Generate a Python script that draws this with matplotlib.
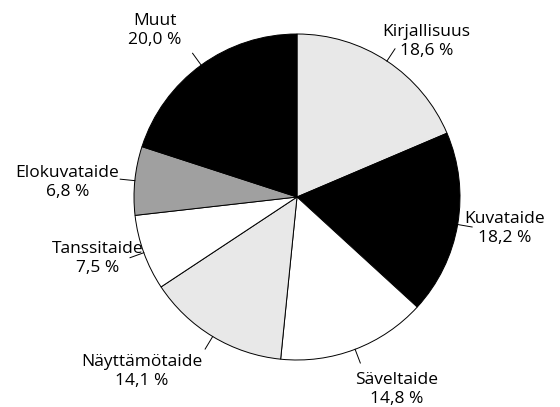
import matplotlib.pyplot as plt
import numpy as np

labels = ['Kirjallisuus', 'Kuvataide', 'Säveltaide', 'Näyttämötaide',
          'Tanssitaide', 'Elokuvataide', 'Muut']
values = [18.6, 18.2, 14.8, 14.1, 7.5, 6.8, 20.0]
colors = ['#e8e8e8', '#000000', '#ffffff', '#e8e8e8', '#ffffff', '#a0a0a0', '#000000']

# where the label text sits: (radius, angle in degrees) from the centre
text_pos = [(1.24, 50.2), (1.29, -8.5), (1.33, -62.7), (1.43, -131.7),
            (1.28, -162.8), (1.41, 176.5), (1.34, 130.5)]

plt.rcParams['font.family'] = ['Open Sans', 'DejaVu Sans']

fig = plt.figure(figsize=(5.6, 4.07), dpi=100)
ax = fig.add_axes([0, 0, 1, 1])

wedges, _ = ax.pie(values, colors=colors, startangle=90, counterclock=False,
                   wedgeprops=dict(edgecolor='black', linewidth=0.7))

for w, lab, v, (r, a) in zip(wedges, labels, values, text_pos):
    mid = np.deg2rad((w.theta1 + w.theta2) / 2)
    ax.plot([np.cos(mid), 1.09 * np.cos(mid)], [np.sin(mid), 1.09 * np.sin(mid)],
            color='black', lw=0.7)
    ta = np.deg2rad(a)
    txt = lab + '\n' + f'{v:.1f}'.replace('.', ',') + ' %'
    ax.text(r * np.cos(ta), r * np.sin(ta), txt, ha='center', va='center',
            fontsize=12.5, linespacing=1.25)

R = 163.0
ax.set_xlim(-297 / R, (560 - 297) / R)
ax.set_ylim(-(407 - 197) / R, 197 / R)
ax.set_aspect('auto')
ax.axis('off')

fig.savefig('out.png', dpi=100)
